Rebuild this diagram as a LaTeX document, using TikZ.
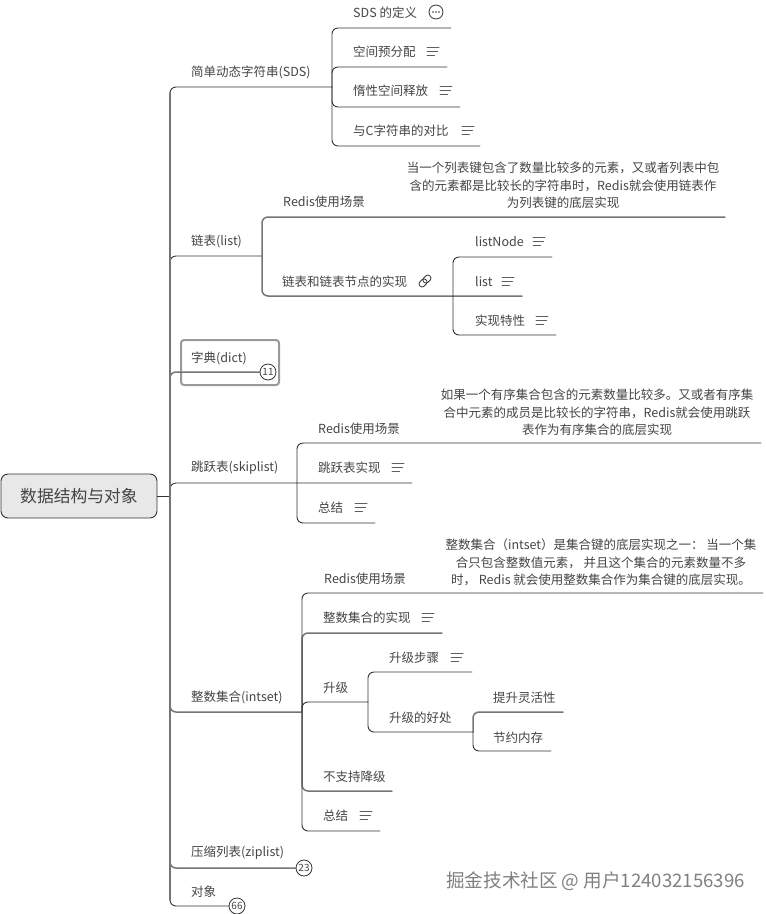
\documentclass[tikz,border=0pt]{standalone}
\usepackage{fontspec}
\setmainfont{Noto Sans CJK SC}
\definecolor{inkc}{HTML}{444444}
\definecolor{linec}{HTML}{333333}
\definecolor{greyc}{HTML}{757575}
\tikzset{
  txt/.style={anchor=west,inner sep=0pt,yshift=-0.8pt,text=inkc,font=\fontsize{12.5}{17.4}\selectfont},
  para/.style={inner sep=0pt,yshift=-0.5pt,text=inkc,align=center,font=\fontsize{12.5}{17.4}\selectfont},
  dline/.style={draw=linec,line width=0.9pt,rounded corners=6pt},
  gline/.style={draw=greyc,line width=1.5pt,rounded corners=6pt},
  badge/.style={circle,draw=linec,line width=0.8pt,fill=white,minimum size=16pt,inner sep=0pt,text=inkc,font=\fontsize{10}{10}\selectfont},
  notes/.pic={
    \draw[greyc!80!black,line width=1pt] (-6,-4) -- (6,-4) (-6,0) -- (4.5,0) (-6,4) -- (1.5,4);
  },
  chain/.pic={
    \draw[linec,line width=0.8pt,rotate=45,rounded corners=2.5pt] (-7,-3) rectangle (1.5,3);
    \draw[linec,line width=0.8pt,rotate=45,rounded corners=2.5pt] (-1.5,-3) rectangle (7,3);
  }
}
\begin{document}
\begin{tikzpicture}[x=1pt,y=-1pt,line cap=round,line join=round]
  \useasboundingbox (0,0) rectangle (766,914);

  % Gốc
  \node[draw=linec,line width=0.9pt,fill=black!9,rounded corners=7pt,minimum width=156pt,minimum height=44pt,inner sep=0pt,text=inkc,font=\fontsize{16.8}{20}\selectfont] (root) at (79,496) {数据结构与对象};
  \coordinate (main) at (170,496);
  \draw[dline] (root) -- (main);

  % Nhánh SDS
  \node[txt] (sds) at (191,72) {简单动态字符串(SDS)};
  \coordinate (sdsEnd) at (332,87);
  \draw[dline] (main) |- (sdsEnd);
  \node[txt] (sdsA) at (353,12) {SDS 的定义};
  \node[txt] (sdsB) at (353,51) {空间预分配};
  \node[txt] (sdsC) at (353,90) {惰性空间释放};
  \node[txt] (sdsD) at (353,130) {与C字符串的对比};
  \coordinate (sdsAe) at (451,28);
  \coordinate (sdsBe) at (447,67);
  \coordinate (sdsCe) at (460,107);
  \coordinate (sdsDe) at (480,146);
  \draw[dline] (sdsEnd) |- (sdsAe);
  \draw[dline] (sdsEnd) |- (sdsBe);
  \draw[dline] (sdsEnd) |- (sdsCe);
  \draw[dline] (sdsEnd) |- (sdsDe);
  \node[circle,draw=linec,line width=0.8pt,minimum size=14pt,inner sep=0pt] (sdsMore) at (436,12) {};
  \foreach \dx in {-3,0,3} \fill[linec] (436+\dx,12) circle (0.8);
  \pic at (433,51) {notes};
  \pic at (446,90) {notes};
  \pic at (468,130) {notes};

  % Nhánh list
  \node[txt] (lst) at (191,241) {链表(list)};
  \coordinate (lstEnd) at (262,256);
  \draw[dline] (main) |- (lstEnd);
  \node[txt] (lstA) at (283,201) {Redis使用场景};
  \node[para] (lstP) at (563,185) {当一个列表键包含了数量比较多的元素，又或者列表中包\\含的元素都是比较长的字符串时，Redis就会使用链表作\\为列表键的底层实现};
  \node[txt] (lstB) at (282,281) {链表和链表节点的实现};
  \coordinate (lstAe) at (725,217);
  \coordinate (lstBe) at (522,296);
  \draw[gline] (lstEnd) |- (lstAe);
  \draw[gline] (lstEnd) |- (lstBe);
  \pic at (425,281) {chain};
  \coordinate (implJ) at (453,296);
  \node[txt] (implA) at (475,241) {listNode};
  \node[txt] (implB) at (475,281) {list};
  \node[txt] (implC) at (475,320) {实现特性};
  \coordinate (implAe) at (552,257);
  \coordinate (implCe) at (556,335);
  \draw[dline] (implJ) |- (implAe);
  \draw[dline] (implJ) |- (implCe);
  \pic at (539,241) {notes};
  \pic at (508,281) {notes};
  \pic at (542,320) {notes};

  % Nhánh dict
  \node[draw=black!40,line width=2pt,rounded corners=3pt,minimum width=98pt,minimum height=45pt,inner sep=0pt] (dictBox) at (230,362.5) {};
  \node[txt] (dict) at (191,358) {字典(dict)};
  \node[badge] (dictN) at (268,372) {11};
  \draw[gline] (main) |- (dictN.west);

  % Nhánh skiplist
  \node[txt] (skip) at (191,467) {跳跃表(skiplist)};
  \coordinate (skipEnd) at (412,483);
  \draw[dline] (main) |- (skipEnd);
  \coordinate (skipJ) at (297,483);
  \node[txt] (skipA) at (318,428) {Redis使用场景};
  \node[para] (skipP) at (597,412) {如果一个有序集合包含的元素数量比较多。又或者有序集\\合中元素的成员是比较长的字符串，Redis就会使用跳跃\\表作为有序集合的底层实现};
  \node[txt] (skipB) at (318,467) {跳跃表实现};
  \node[txt] (skipC) at (318,507) {总结};
  \coordinate (skipAe) at (761,443);
  \coordinate (skipCe) at (375,523);
  \draw[dline] (skipJ) |- (skipAe);
  \draw[dline] (skipJ) |- (skipCe);
  \pic at (398,467) {notes};
  \pic at (361,507) {notes};

  % Nhánh intset
  \node[txt] (iset) at (191,697) {整数集合(intset)};
  \coordinate (isetEnd) at (302,712);
  \draw[gline] (main) |- (isetEnd);
  \node[txt] (isetA) at (324,578) {Redis使用场景};
  \node[para] (isetP) at (601,562) {整数集合（intset）是集合键的底层实现之一： 当一个集\\合只包含整数值元素， 并且这个集合的元素数量不多\\时， Redis 就会使用整数集合作为集合键的底层实现。};
  \node[txt] (isetB) at (323,617) {整数集合的实现};
  \node[txt] (isetC) at (323,687) {升级};
  \node[txt] (isetD) at (323,776) {不支持降级};
  \node[txt] (isetE) at (323,815) {总结};
  \coordinate (isetAe) at (763,593);
  \coordinate (isetBe) at (442,633);
  \coordinate (isetCe) at (368,702);
  \coordinate (isetDe) at (392,791);
  \coordinate (isetEe) at (380,831);
  \draw[gline] (isetEnd) |- (isetBe);
  \draw[gline] (isetEnd) |- (isetDe);
  \draw[dline] (isetEnd) |- (isetAe);
  \draw[dline] (isetEnd) |- (isetCe);
  \draw[dline] (isetEnd) |- (isetEe);
  \pic at (428,617) {notes};
  \pic at (366,815) {notes};

  % Các bước nâng cấp
  \node[txt] (upA) at (389,657) {升级步骤};
  \node[txt] (upB) at (389,717) {升级的好处};
  \coordinate (upAe) at (472,672);
  \coordinate (upBe) at (473,732);
  \draw[dline] (isetCe) |- (upAe);
  \draw[dline] (isetCe) |- (upBe);
  \pic at (457,657) {notes};
  \node[txt] (goodA) at (493,697) {提升灵活性};
  \node[txt] (goodB) at (493,737) {节约内存};
  \coordinate (goodAe) at (563,712);
  \coordinate (goodBe) at (551,751);
  \draw[gline] (upBe) |- (goodAe);
  \draw[dline] (upBe) |- (goodBe);

  % Hai nhánh cuối
  \node[txt] (zip) at (191,852) {压缩列表(ziplist)};
  \node[badge] (zipN) at (304,868) {23};
  \draw[gline] (main) |- (zipN.west);
  \node[txt] (obj) at (191,891) {对象};
  \node[badge] (objN) at (237,906) {66};
  \draw[dline] (main) |- (objN.west);

  % Thân chính
  \draw[greyc,line width=1.8pt] (170,93) -- (170,900);

  % Chữ mờ
  \node[anchor=west,inner sep=0pt,text=black!50,font=\fontsize{18.6}{20}\selectfont] (mark) at (446,881) {掘金技术社区 @ 用户124032156396};
\end{tikzpicture}
\end{document}
